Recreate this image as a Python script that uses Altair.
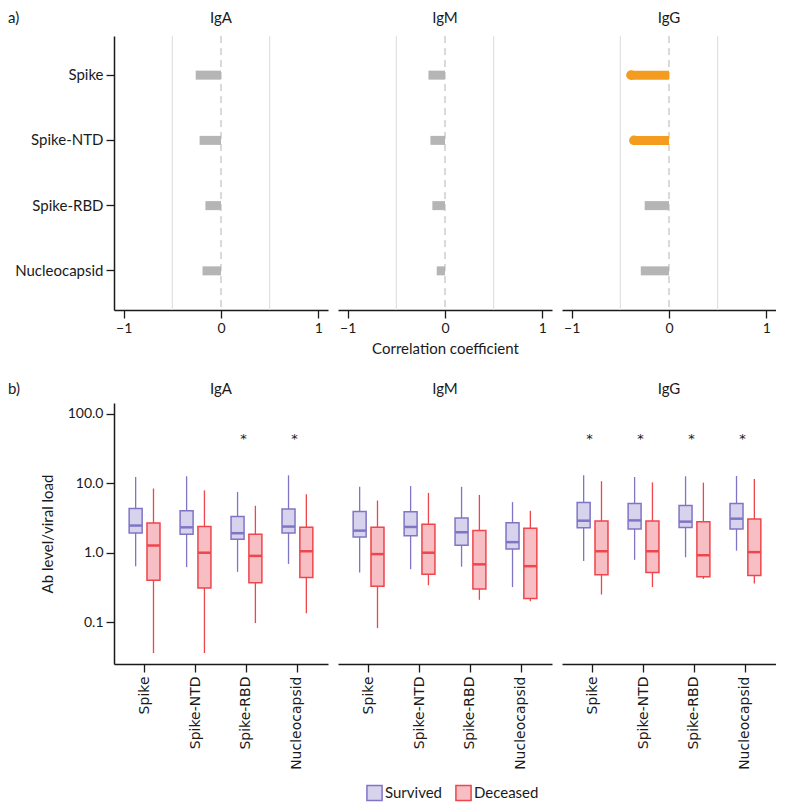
import altair as alt
import pandas as pd

proteins = ["Spike", "Spike-NTD", "Spike-RBD", "Nucleocapsid"]
isotypes = ["IgA", "IgM", "IgG"]
groups = ["Survived", "Deceased"]

# Panel a) correlation coefficients
corr_IgA = [-0.26, -0.22, -0.16, -0.19]
corr_IgM = [-0.17, -0.15, -0.13, -0.085]
corr_IgG = [-0.39, -0.36, -0.25, -0.29]
sig_IgA = [False, False, False, False]
sig_IgM = [False, False, False, False]
sig_IgG = [True, True, False, False]

# Panel b) box statistics: (lower whisker, Q1, median, Q3, upper whisker) per protein
IgA_survived = [(0.64, 1.93, 2.46, 4.34, 12.3), (0.62, 1.85, 2.32, 4.02, 12.6),
                (0.53, 1.56, 1.91, 3.33, 7.5), (0.69, 1.93, 2.38, 4.25, 13.0)]
IgA_deceased = [(0.036, 0.40, 1.27, 2.68, 8.4), (0.036, 0.31, 1.0, 2.38, 7.9),
                (0.097, 0.37, 0.90, 1.84, 4.74), (0.135, 0.44, 1.05, 2.32, 6.96)]
IgM_survived = [(0.52, 1.69, 2.08, 3.93, 8.9), (0.58, 1.75, 2.35, 3.89, 9.1),
                (0.63, 1.28, 1.97, 3.16, 8.9), (0.32, 1.13, 1.42, 2.71, 5.35)]
IgM_deceased = [(0.082, 0.33, 0.955, 2.32, 5.64), (0.34, 0.49, 1.0, 2.56, 7.27),
                (0.21, 0.30, 0.68, 2.08, 6.8), (0.20, 0.22, 0.64, 2.25, 4.02)]
IgG_survived = [(0.76, 2.28, 2.89, 5.28, 13.0), (0.79, 2.2, 2.92, 5.11, 12.3),
                (0.86, 2.3, 2.8, 4.79, 12.6), (1.07, 2.2, 3.09, 5.11, 12.7)]
IgG_deceased = [(0.25, 0.48, 1.05, 2.86, 10.7), (0.32, 0.52, 1.05, 2.86, 10.3),
                (0.42, 0.45, 0.92, 2.8, 10.2), (0.36, 0.47, 1.02, 3.06, 11.5)]
stars_IgA = ["Spike-RBD", "Nucleocapsid"]
stars_IgM = []
stars_IgG = ["Spike", "Spike-NTD", "Spike-RBD", "Nucleocapsid"]
star_level = 48

grid_lines = [-0.5, 0.5]

FONT = "Lato"
INK = "#1a1a1a"
GRAY_BAR = "#b5b5b5"
ORANGE = "#f39c1f"
FILLS = ["#d7d3ec", "#f7bfc3"]
STROKES = ["#7f75c6", "#ef454c"]

W = 214
H_TOP = 274
H_BOT = 261


def label_layers(iso, tag, ypos):
    out = [alt.Chart(pd.DataFrame({"t": [iso]})).mark_text(
        align="center", baseline="middle", fontSize=15, font=FONT, color=INK
    ).encode(text="t:N", x=alt.value(W / 2), y=alt.value(ypos))]
    if tag:
        out.append(alt.Chart(pd.DataFrame({"t": [tag]})).mark_text(
            align="left", baseline="middle", fontSize=15, font=FONT, color=INK
        ).encode(text="t:N", x=alt.value(-106), y=alt.value(ypos)))
    return out


def corr_panel(iso, vals, sig, idx):
    df = pd.DataFrame({"protein": proteins, "r": vals, "sig": sig})
    xaxis = alt.Axis(values=[-1, 0, 1], tickSize=8, labelFontSize=14,
                     labelPadding=3, titleFontSize=15, titleFontWeight="normal",
                     titlePadding=6)
    xtitle = "Correlation coefficient" if idx == 1 else None
    xs = alt.Scale(domain=[-1.1, 1.1], nice=False, zero=False)
    x = alt.X("r:Q", scale=xs, axis=xaxis, title=xtitle)
    yaxis = alt.Axis(tickSize=8, labelFontSize=15, labelPadding=3) if idx == 0 else None
    y = alt.Y("protein:N", sort=proteins,
              scale=alt.Scale(domain=proteins, paddingOuter=0.1, paddingInner=0),
              axis=yaxis, title=None)

    grid = alt.Chart(pd.DataFrame({"r": grid_lines})).mark_rule(
        color="#e2e2e2", strokeWidth=1.3).encode(x=x)
    zero = alt.Chart(pd.DataFrame({"r": [0.0]})).mark_rule(
        color="#c6c6c6", strokeWidth=1.3, strokeDash=[7, 5]).encode(x=x)
    bars = alt.Chart(df).mark_bar(size=9).encode(
        x=x, x2=alt.datum(0), y=y,
        color=alt.condition("datum.sig", alt.value(ORANGE), alt.value(GRAY_BAR)))
    dots = alt.Chart(df).transform_filter("datum.sig").mark_circle(
        size=95, color=ORANGE, opacity=1).encode(x=x, y=y)
    layers = [grid, zero, bars, dots] + label_layers(iso, "a)" if idx == 0 else None, -18)
    return alt.layer(*layers).properties(width=W, height=H_TOP)


def box_panel(iso, surv, dec, stars, idx):
    rows = []
    for g, stats in (("Survived", surv), ("Deceased", dec)):
        for p, s in zip(proteins, stats):
            rows.append({"protein": p, "group": g, "lo": s[0], "q1": s[1],
                         "med": s[2], "q3": s[3], "hi": s[4]})
    df = pd.DataFrame(rows)
    ys = alt.Scale(type="log", domain=[0.025, 143], nice=False)
    yaxis = alt.Axis(values=[0.1, 1, 10, 100], format=".1f", tickSize=8,
                     labelFontSize=14, labelPadding=3, titleFontSize=15,
                     titleFontWeight="normal", titlePadding=12) if idx == 0 else None
    ytitle = "Ab level/viral load" if idx == 0 else None
    x = alt.X("protein:N", sort=proteins,
              scale=alt.Scale(domain=proteins, paddingInner=0.3, paddingOuter=0.25),
              axis=alt.Axis(labelAngle=-90, labelFont="DejaVu Sans", labelFontSize=14,
                            tickSize=8, labelPadding=4, labelColor=INK),
              title=None)
    xo = alt.XOffset("group:N", sort=groups,
                     scale=alt.Scale(domain=groups, paddingInner=0, paddingOuter=0))
    leg = alt.Legend(orient="none", legendX=252, legendY=748, padding=0,
                     direction="horizontal", title=None,
                     symbolType="square", symbolSize=230, symbolStrokeWidth=1.5,
                     labelFontSize=15, labelFont=FONT, labelColor=INK,
                     columnPadding=10, labelOffset=2)
    fill = alt.Fill("group:N", sort=groups,
                    scale=alt.Scale(domain=groups, range=FILLS), legend=leg, title=None)
    stroke = alt.Stroke("group:N", sort=groups,
                        scale=alt.Scale(domain=groups, range=STROKES), legend=leg, title=None)
    color = alt.Color("group:N", sort=groups,
                      scale=alt.Scale(domain=groups, range=STROKES), legend=None)

    base = alt.Chart(df)
    whisk = base.mark_rule(strokeWidth=1.3).encode(
        x=x, xOffset=xo,
        y=alt.Y("lo:Q", scale=ys, axis=yaxis, title=ytitle), y2="hi:Q",
        stroke=stroke)
    box = base.mark_bar(size=13, strokeWidth=1.5).encode(
        x=x, xOffset=xo,
        y=alt.Y("q1:Q", scale=ys, axis=yaxis, title=ytitle), y2="q3:Q",
        fill=fill, stroke=stroke)
    med = base.mark_tick(size=13, thickness=2.5, opacity=1).encode(
        x=x, xOffset=xo,
        y=alt.Y("med:Q", scale=ys, axis=yaxis, title=ytitle),
        color=color)
    layers = [whisk, box, med]
    if stars:
        sdf = pd.DataFrame({"protein": stars, "s": [star_level] * len(stars),
                            "t": ["*"] * len(stars)})
        st = alt.Chart(sdf).mark_text(fontSize=13, font="DejaVu Sans", color=INK,
                                      baseline="middle", dx=-3, dy=3).encode(
            x=x, y=alt.Y("s:Q", scale=ys, axis=yaxis, title=ytitle), text="t:N")
        layers.append(st)
    layers += label_layers(iso, "b)" if idx == 0 else None, -14)
    return alt.layer(*layers).properties(width=W, height=H_BOT)


top = alt.hconcat(
    corr_panel("IgA", corr_IgA, sig_IgA, 0),
    corr_panel("IgM", corr_IgM, sig_IgM, 1),
    corr_panel("IgG", corr_IgG, sig_IgG, 2),
    spacing=10,
)
bottom = alt.hconcat(
    box_panel("IgA", IgA_survived, IgA_deceased, stars_IgA, 0),
    box_panel("IgM", IgM_survived, IgM_deceased, stars_IgM, 1),
    box_panel("IgG", IgG_survived, IgG_deceased, stars_IgG, 2),
    spacing=10,
)

chart = alt.vconcat(top, bottom, spacing=26).properties(
    padding={"top": 3, "left": 0, "right": 0, "bottom": 0}, background="white"
).configure(font=FONT).configure_view(stroke=None).configure_axis(
    grid=False, domainColor=INK, tickColor=INK, labelColor=INK, titleColor=INK,
    domainWidth=1.5, tickWidth=1.3, labelFont=FONT, titleFont=FONT
)

chart.save("out.html", embed_options={"renderer": "svg", "actions": False})
